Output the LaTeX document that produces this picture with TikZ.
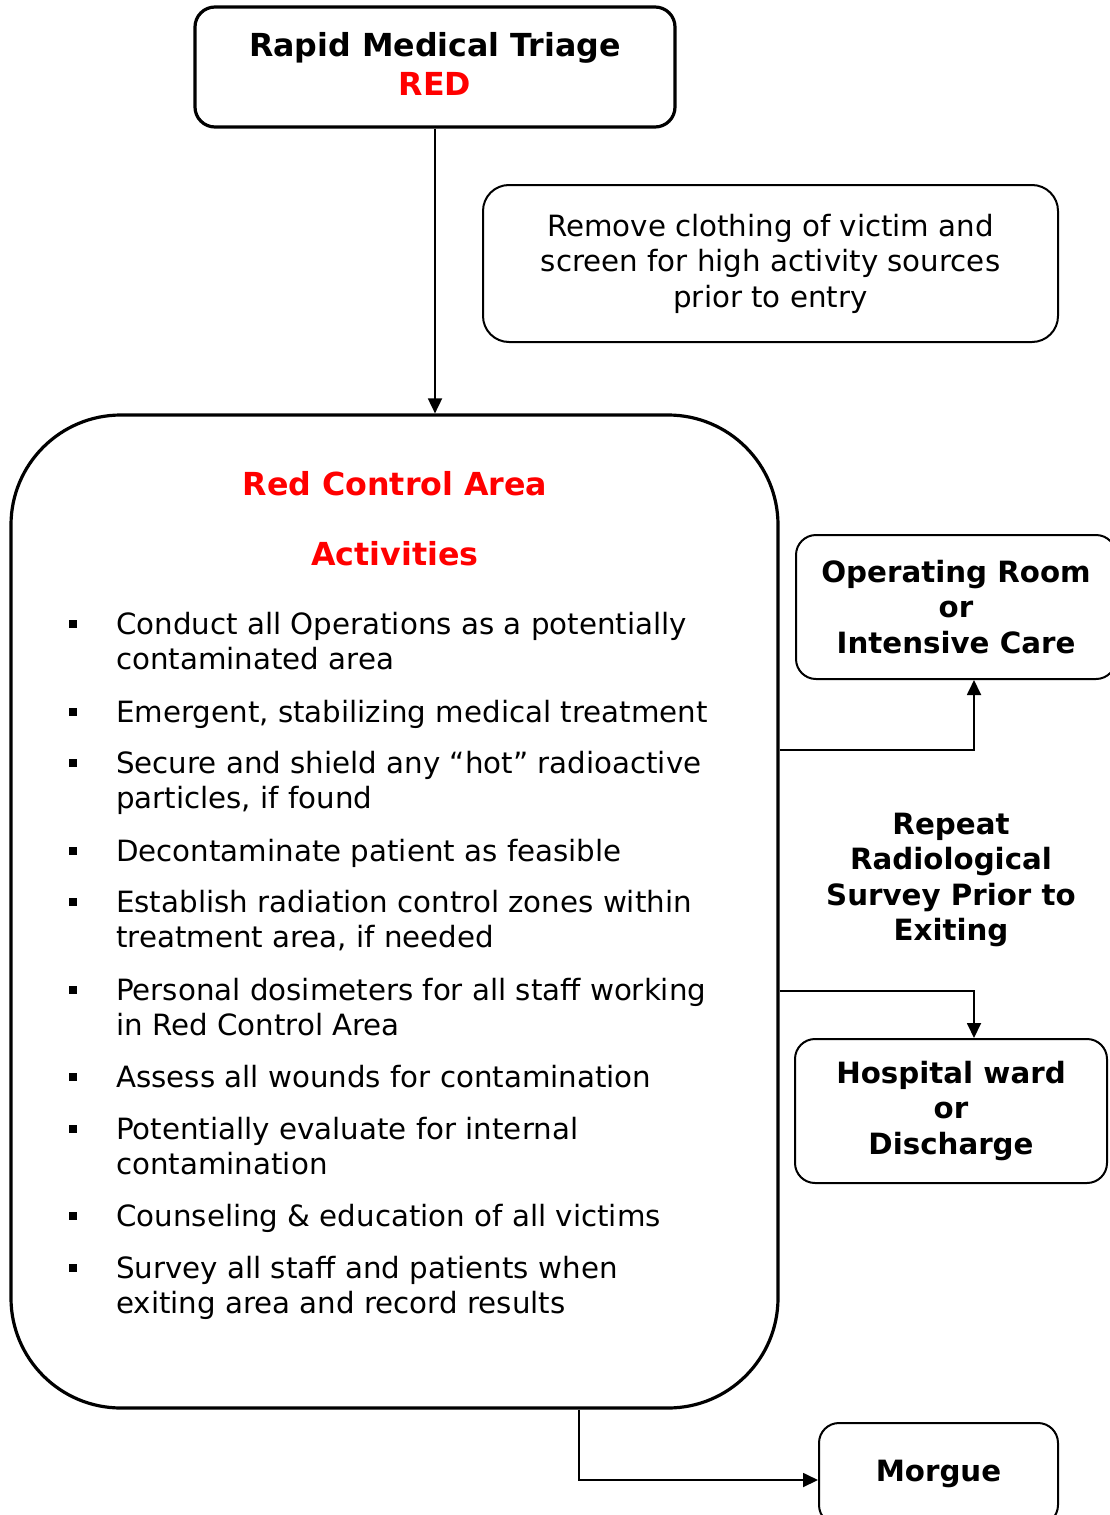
\documentclass[tikz,border=0pt]{standalone}
\usepackage{fontspec}
\setmainfont{DejaVu Sans}
\usetikzlibrary{arrows.meta}
\definecolor{alertred}{RGB}{255,0,0}

% text sizes (1pt = 1 unit of the drawing grid)
\newcommand{\bodysize}{\fontsize{29.3}{35.5}\selectfont}
\newcommand{\titlesize}{\fontsize{31.7}{39}\selectfont}
% several lines, baseline on the first one
\newcommand{\linesof}[1]{\begin{tabular}[t]{@{}l@{}}#1\end{tabular}}

\begin{document}
\begin{tikzpicture}[x=1pt,y=-1pt,
  box/.style={draw, rounded corners=20, line width=2, align=center,
    inner sep=0, font=\bodysize\bfseries},
  thickbox/.style={box, line width=3.2},
  plainbox/.style={box, font=\bodysize},
  headline/.style={font=\titlesize\bfseries, text=alertred, anchor=base, inner sep=0},
  itemtext/.style={font=\bodysize, anchor=base west, inner sep=0},
  bulletsq/.style={fill=black, minimum size=7.5, inner sep=0},
  arr/.style={line width=1.8, -{Triangle[length=15,width=14]}}
]
\useasboundingbox (0,0) rectangle (1110,1515);

% ---- boxes ----
\node[thickbox, font=\titlesize\bfseries, minimum width=480, minimum height=120] (triage) at (435,67)
  {Rapid Medical Triage\\\textcolor{alertred}{RED}\rule[-7pt]{0pt}{7pt}};
\node[plainbox, rounded corners=26, minimum width=575, minimum height=157] (remove) at (770.5,263.5)
  {Remove clothing of victim and\\screen for high activity sources\\prior to entry};
\node[thickbox, rounded corners=110, minimum width=767, minimum height=993] (area) at (394.5,911.5) {};
\node[box, minimum width=320, minimum height=144] (theatre) at (956,607)
  {Operating Room\\or\\Intensive Care};
\node[box, minimum width=312, minimum height=144] (ward) at (951,1111)
  {Hospital ward\\or\\Discharge};
\node[box, minimum width=239, minimum height=102] (morgue) at (938.5,1474) {Morgue};

% ---- free label between the exits ----
\node[font=\bodysize\bfseries, align=center, inner sep=0, anchor=base] (survey) at (951,834)
  {\linesof{\hfil Repeat\hfil\\\hfil Radiological\hfil\\Survey Prior to\\\hfil Exiting\hfil}};

% ---- contents of the control area ----
\node[headline] (areatitle) at (395,495) {Red Control Area};
\node[headline] (acttitle) at (395,565) {Activities};

\node[itemtext] (i1) at (116,634) {\linesof{Conduct all Operations as a potentially\\contaminated area}};
\node[itemtext] (i2) at (116,722) {Emergent, stabilizing medical treatment};
\node[itemtext] (i3) at (116,773) {\linesof{Secure and shield any “hot” radioactive\\particles, if found}};
\node[itemtext] (i4) at (116,861) {Decontaminate patient as feasible};
\node[itemtext] (i5) at (116,912) {\linesof{Establish radiation control zones within\\treatment area, if needed}};
\node[itemtext] (i6) at (116,1000) {\linesof{Personal dosimeters for all staff working\\in Red Control Area}};
\node[itemtext] (i7) at (116,1087) {Assess all wounds for contamination};
\node[itemtext] (i8) at (116,1139) {\linesof{Potentially evaluate for internal\\contamination}};
\node[itemtext] (i9) at (116,1226) {Counseling \& education of all victims};
\node[itemtext] (i10) at (116,1278) {\linesof{Survey all staff and patients when\\exiting area and record results}};

\foreach \k/\yb in {1/634,2/722,3/773,4/861,5/912,6/1000,7/1087,8/1139,9/1226,10/1278}
  \node[bulletsq] (b\k) at (73,\yb-10) {};

% ---- connectors ----
\draw[arr] (triage.south) -- (triage.south |- area.north);

\coordinate (upturn) at (974,750);
\draw[arr] (upturn -| area.east) -- (upturn) -- (upturn |- theatre.south);

\coordinate (downturn) at (974,991);
\draw[arr] (downturn -| area.east) -- (downturn) -- (downturn |- ward.north);

\coordinate (lastturn) at (579,1480);
\draw[arr] (lastturn |- area.south) -- (lastturn) -- (lastturn -| morgue.west);
\end{tikzpicture}
\end{document}
